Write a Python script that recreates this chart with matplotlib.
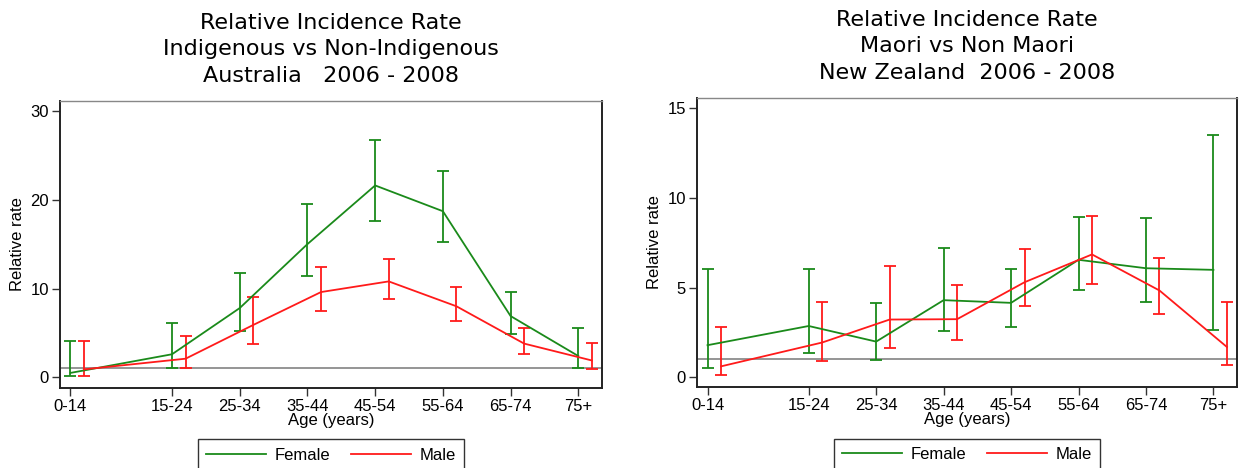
import matplotlib.pyplot as plt
import numpy as np
from matplotlib.lines import Line2D

ages = ["0-14", "15-24", "25-34", "35-44", "45-54", "55-64", "65-74", "75+"]
age_pos = [0, 15, 25, 35, 45, 55, 65, 75]

# Australia: Indigenous vs Non-Indigenous
au_f = [0.5, 2.6, 7.8, 15.0, 21.6, 18.7, 6.9, 2.4]
au_f_lo = [0.1, 1.1, 5.2, 11.4, 17.6, 15.2, 4.9, 1.1]
au_f_hi = [4.1, 6.1, 11.7, 19.5, 26.7, 23.2, 9.6, 5.6]
au_m = [0.9, 2.1, 5.9, 9.6, 10.8, 8.0, 3.8, 1.9]
au_m_lo = [0.2, 1.0, 3.8, 7.5, 8.8, 6.3, 2.6, 0.9]
au_m_hi = [4.1, 4.7, 9.0, 12.4, 13.3, 10.2, 5.5, 3.9]

# New Zealand: Maori vs Non Maori
nz_f = [1.79, 2.86, 1.99, 4.30, 4.15, 6.55, 6.08, 5.99]
nz_f_lo = [0.52, 1.38, 0.95, 2.58, 2.81, 4.84, 4.17, 2.66]
nz_f_hi = [6.03, 6.03, 4.15, 7.22, 6.05, 8.93, 8.89, 13.5]
nz_m = [0.61, 1.94, 3.22, 3.24, 5.30, 6.85, 4.84, 1.69]
nz_m_lo = [0.13, 0.93, 1.66, 2.06, 3.96, 5.21, 3.53, 0.69]
nz_m_hi = [2.81, 4.17, 6.19, 5.15, 7.14, 9.0, 6.66, 4.20]

titles = ["Relative Incidence Rate\nIndigenous vs Non-Indigenous\nAustralia   2006 - 2008",
          "Relative Incidence Rate\nMaori vs Non Maori\nNew Zealand  2006 - 2008"]

GREEN = "#1a8a1a"
RED = "#ff1a1a"

plt.rcParams['font.family'] = ['Liberation Sans', 'DejaVu Sans']

fig = plt.figure(figsize=(12.41, 4.68), dpi=100)
ax1 = fig.add_axes([0.0483, 0.1709, 0.4368, 0.6132])
ax2 = fig.add_axes([0.5617, 0.1731, 0.4351, 0.6175])


def draw(ax, f, flo, fhi, m, mlo, mhi, ylim, yticks, title):
    x = np.array(age_pos, dtype=float)
    xm = x + 2
    f, flo, fhi = map(np.array, (f, flo, fhi))
    m, mlo, mhi = map(np.array, (m, mlo, mhi))
    ax.axhline(1, color="#8c8c8c", lw=1.3, zorder=1)
    ax.errorbar(x, f, yerr=[f - flo, fhi - f], color=GREEN, lw=1.3,
                elinewidth=1.3, capsize=4, capthick=1.3, zorder=3)
    ax.errorbar(xm, m, yerr=[m - mlo, mhi - m], color=RED, lw=1.3,
                elinewidth=1.3, capsize=4, capthick=1.3, zorder=3)
    ax.set_xlim(-1.55, 78.5)
    ax.set_ylim(*ylim)
    ax.set_xticks(age_pos)
    ax.set_xticklabels(ages, fontsize=12)
    ax.set_yticks(yticks)
    ax.set_yticklabels([str(t) for t in yticks], fontsize=12)
    ax.tick_params(direction="out", length=6, width=1, color="#333333", pad=2)
    for s in ["left", "bottom", "right"]:
        ax.spines[s].set_linewidth(1.4)
        ax.spines[s].set_color("#222222")
    ax.spines["top"].set_linewidth(1.0)
    ax.spines["top"].set_color("#888888")
    ax.set_xlabel("Age (years)", fontsize=12, labelpad=-1)
    ax.set_ylabel("Relative rate", fontsize=12, labelpad=4)
    ax.set_title(title, fontsize=16, family="DejaVu Sans", linespacing=1.4, pad=14)

    handles = [Line2D([], [], color=GREEN, lw=1.3), Line2D([], [], color=RED, lw=1.3)]
    leg = ax.legend(handles, ["Female", "Male"], loc="upper center",
                    bbox_to_anchor=(0.5, -0.15), ncol=2, frameon=True, fancybox=False,
                    edgecolor="black", fontsize=12, handlelength=3.6,
                    columnspacing=1.2, borderpad=0.5, handletextpad=0.55)
    leg.get_frame().set_linewidth(1.0)


draw(ax1, au_f, au_f_lo, au_f_hi, au_m, au_m_lo, au_m_hi, (-1.2, 31.1), [0, 10, 20, 30], titles[0])
draw(ax2, nz_f, nz_f_lo, nz_f_hi, nz_m, nz_m_lo, nz_m_hi, (-0.54, 15.57), [0, 5, 10, 15], titles[1])

fig.savefig("out.png", dpi=100)
